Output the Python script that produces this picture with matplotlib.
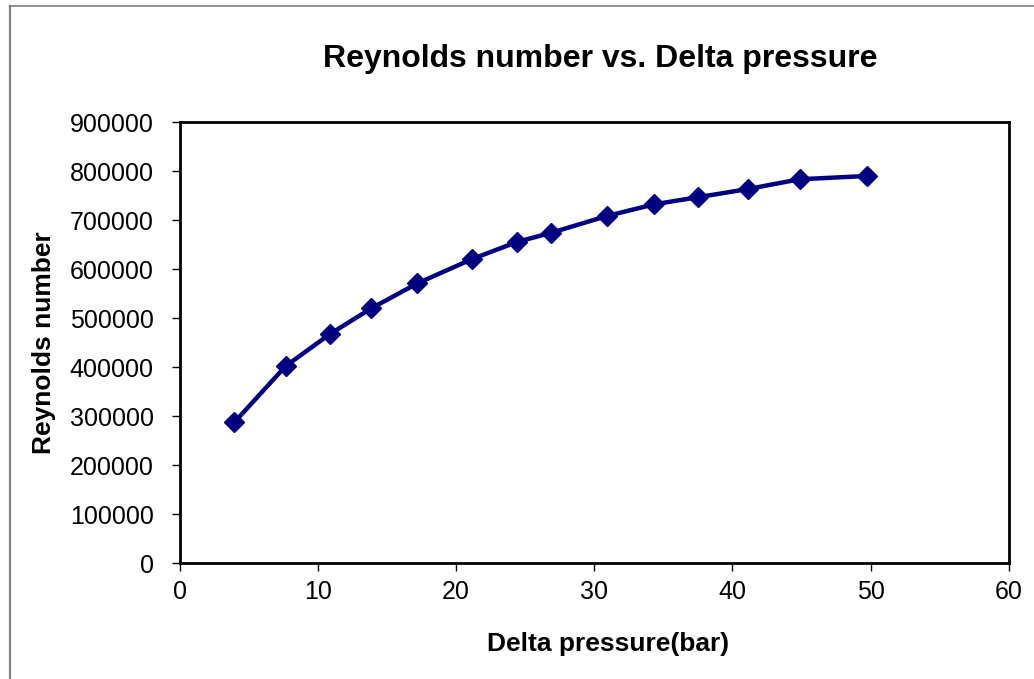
import matplotlib.pyplot as plt
from matplotlib.lines import Line2D

plt.rcParams['font.family'] = ['Liberation Sans', 'DejaVu Sans']

# Data
delta_p = [3.94, 7.66, 10.87, 13.86, 17.2, 21.16, 24.4, 26.9,
           30.92, 34.35, 37.49, 41.14, 44.86, 49.71]
reynolds = [287700, 402600, 468000, 520400, 571400, 621000, 655700, 674700,
            708800, 732700, 747000, 763900, 783700, 790400]

x_ticks = [0, 10, 20, 30, 40, 50, 60]
y_ticks = [0, 100000, 200000, 300000, 400000, 500000, 600000, 700000, 800000, 900000]

fig = plt.figure(figsize=(10.34, 6.79), dpi=100)
ax = fig.add_axes([0.174, 0.1704, 0.8015, 0.6495])

ax.plot(delta_p, reynolds, color='#000080', linewidth=3.2,
        marker='D', markersize=10, markerfacecolor='#000080',
        markeredgecolor='#000080', solid_joinstyle='round')

ax.set_xlim(0, 60)
ax.set_ylim(0, 900000)
ax.set_xticks(x_ticks)
ax.set_yticks(y_ticks)
ax.set_yticklabels([str(v) for v in y_ticks])

ax.tick_params(axis='both', direction='out', length=6, width=1, labelsize=18,
               top=False, right=False)
ax.tick_params(axis='x', pad=6)
ax.tick_params(axis='y', pad=13)
for s in ax.spines.values():
    s.set_linewidth(2)
    s.set_color('black')

ax.set_title('Reynolds number vs. Delta pressure', fontsize=23,
             fontweight='bold', pad=40, x=0.507)
ax.set_xlabel('Delta pressure(bar)', fontsize=19, fontweight='bold', labelpad=20)
ax.xaxis.label.set_x(0.517)
ax.set_ylabel('Reynolds number', fontsize=19, fontweight='bold', labelpad=10)

# outer chart-area border (left and top visible)
fig.add_artist(Line2D([10 / 1034, 10 / 1034], [0, 1 - 6 / 679],
                      transform=fig.transFigure, color='#808080', linewidth=1.6))
fig.add_artist(Line2D([10 / 1034, 1], [1 - 6 / 679, 1 - 6 / 679],
                      transform=fig.transFigure, color='#808080', linewidth=1.2))

plt.savefig('out.png', dpi=100)
